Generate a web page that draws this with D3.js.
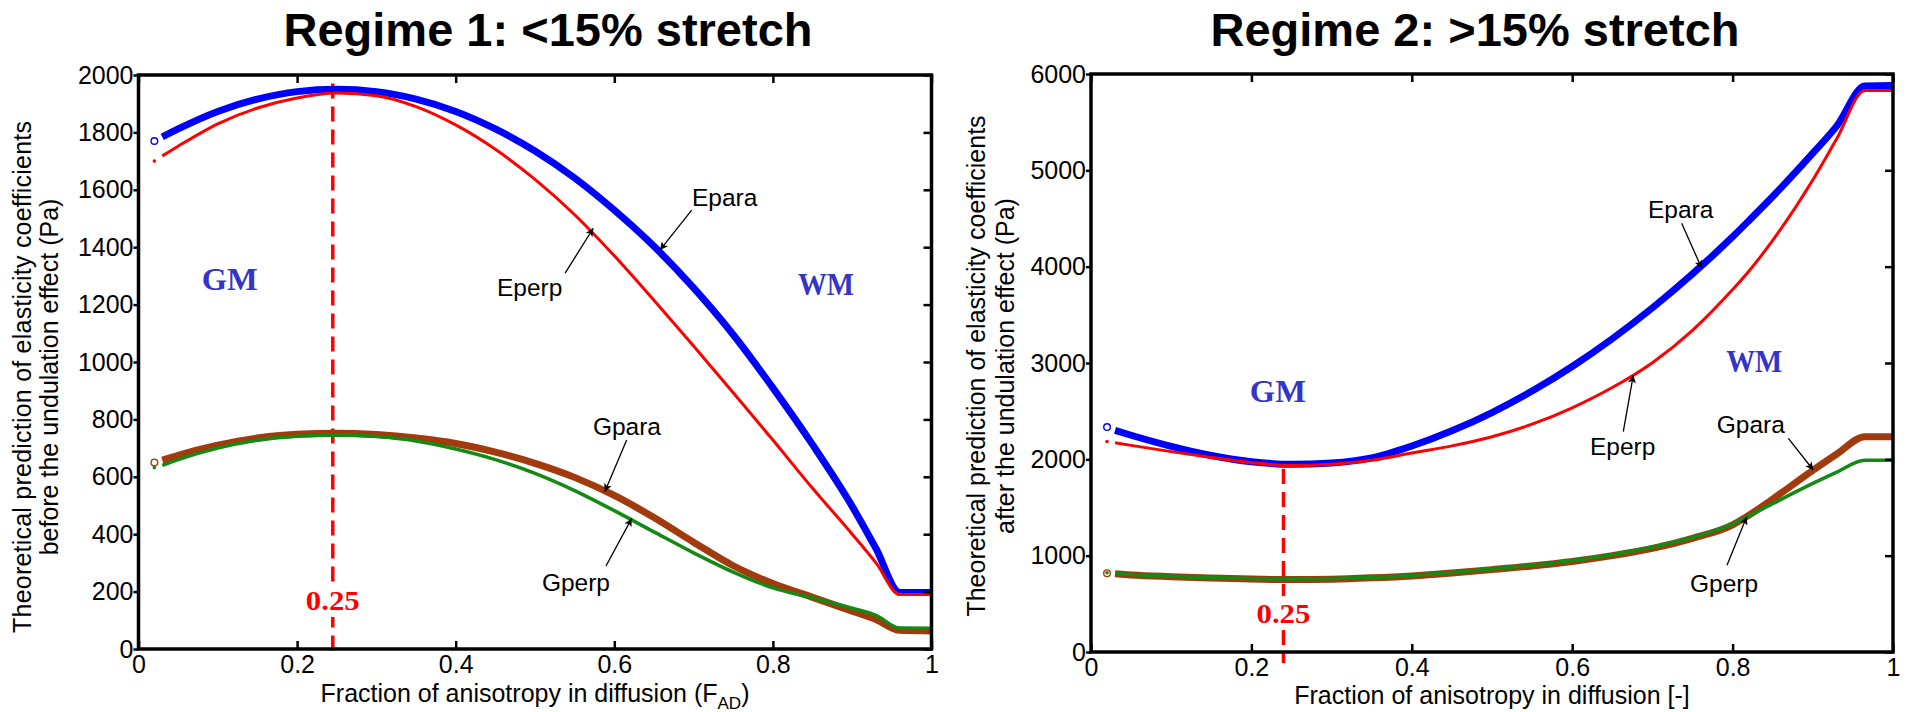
<!DOCTYPE html>
<html><head><meta charset="utf-8">
<script src="https://cdn.jsdelivr.net/npm/d3@7"></script>
<style>
body{margin:0;background:#fff}
svg{display:block}
</style>
</head><body>
<svg id="c" width="1910" height="712"></svg>
<script>
// ---------- data ----------
const xTicks = [0, 0.2, 0.4, 0.6, 0.8, 1];
const xTickLabels = ["0", "0.2", "0.4", "0.6", "0.8", "1"];
const yTicks1 = [0, 200, 400, 600, 800, 1000, 1200, 1400, 1600, 1800, 2000];
const yTicks2 = [0, 1000, 2000, 3000, 4000, 5000, 6000];

// Regime 1 (before undulation)
const fad1   = [0.02, 0.03, 0.05, 0.1, 0.15, 0.2, 0.25, 0.3, 0.35, 0.4, 0.45, 0.5, 0.55, 0.6, 0.65, 0.7, 0.75, 0.8, 0.85, 0.9, 0.93, 0.96, 1.0];
const epara1 = [1770, 1784, 1812, 1873, 1916, 1942, 1950, 1942, 1916, 1873, 1812, 1735, 1641, 1529, 1403, 1258, 1095, 910, 712, 497, 350, 197, 197];
const eperp1 = [1700, 1718, 1752, 1830, 1885, 1920, 1937, 1928, 1890, 1826, 1741, 1636, 1513, 1370, 1215, 1056, 893, 728, 560, 400, 300, 190, 190];
const gpara1 = [650, 658, 675, 710, 735, 748, 752, 747, 735, 716, 686, 647, 598, 535, 458, 372, 290, 228, 180, 132, 103, 65, 63];
const gperp1 = [632, 640, 660, 700, 727, 741, 745, 740, 725, 697, 660, 612, 552, 482, 408, 335, 268, 213, 178, 142, 117, 73, 72];

// Regime 2 (after undulation)
const fad2   = [0.02, 0.03, 0.05, 0.1, 0.15, 0.2, 0.25, 0.3, 0.35, 0.4, 0.45, 0.5, 0.55, 0.6, 0.65, 0.7, 0.75, 0.8, 0.82, 0.85, 0.9, 0.93, 0.965, 1.0];
const epara2 = [2335, 2300, 2250, 2135, 2040, 1975, 1948, 1962, 2015, 2138, 2296, 2486, 2709, 2964, 3252, 3572, 3925, 4310, 4475, 4728, 5178, 5462, 5875, 5880];
const eperp2 = [2185, 2172, 2145, 2080, 2020, 1965, 1935, 1948, 1990, 2066, 2140, 2235, 2365, 2535, 2745, 3003, 3339, 3762, 3950, 4273, 4900, 5330, 5830, 5830];
const gpara2 = [818, 812, 800, 782, 768, 757, 752, 756, 770, 790, 820, 855, 893, 940, 1000, 1075, 1180, 1320, 1418, 1588, 1885, 2055, 2235, 2235];
const gperp2 = [822, 815, 805, 786, 772, 762, 757, 762, 775, 795, 825, 862, 902, 950, 1010, 1090, 1188, 1330, 1412, 1540, 1750, 1868, 1990, 1990];

const seriesNames = ["Epara", "Eperp", "Gpara", "Gperp"];

// annotations: [label, textX, textY, tailX, tailY, tipX, tipY] in data units
const notes1 = [
  ["Epara", 0.698, 1543, 0.6976, 1529, 0.6576, 1390],
  ["Eperp", 0.452, 1230, 0.538, 1310, 0.5735, 1466],
  ["Gpara", 0.573, 746, 0.6156, 728, 0.588, 548],
  ["Gperp", 0.5087, 202, 0.5895, 289, 0.622, 455]
];
const notes2 = [
  ["Epara", 0.6945, 4505, 0.7365, 4450, 0.7615, 3983],
  ["Eperp", 0.6222, 2045, 0.6637, 2287, 0.6762, 2875],
  ["Gpara", 0.7802, 2273, 0.8695, 2218, 0.9006, 1889],
  ["Gperp", 0.7469, 623, 0.793, 900, 0.8176, 1404]
];
// region labels [text, x, y]
const regions1 = [["GM", 0.115, 1250], ["WM", 0.867, 1233]];
const regions2 = [["GM", 0.233, 2600], ["WM", 0.827, 2906]];
// marked fraction
const mark1 = {x: 0.245, y0: 1970, y1: -30, label: "0.25", labelY: 136};
const mark2 = {x: 0.24, y0: 1900, y1: -115, label: "0.25", labelY: 300};

// ---------- styles / layout ----------
const SANS = "Arial, 'Liberation Sans', Helvetica, sans-serif";
const SERIF = "'Liberation Serif', 'Times New Roman', 'DejaVu Serif', serif";
const styles = [
  {color: "#0000ff", width: 7, open: true},
  {color: "#ff0000", width: 3, open: false},
  {color: "#a13a0c", width: 7, open: true},
  {color: "#138a13", width: 3.5, open: false}
];
const panels = [
  {l: 138.5, r: 931.5, t: 75, b: 649, yMax: 2000, yTicks: yTicks1, xs: fad1,
   vals: [epara1, eperp1, gpara1, gperp1], notes: notes1, regions: regions1, mark: mark1,
   title: "Regime 1: <15% stretch", titleX: 548,
   ylab: ["Theoretical prediction of elasticity coefficients", "before the undulation effect (Pa)"],
   ylabLen: [512, null],
   ylabX: [31, 58], ylabY: 377, xlabSub: true, xlabY: 702},
  {l: 1091, r: 1893, t: 74, b: 652, yMax: 6000, yTicks: yTicks2, xs: fad2,
   vals: [epara2, eperp2, gpara2, gperp2], notes: notes2, regions: regions2, mark: mark2,
   title: "Regime 2: >15% stretch", titleX: 1475,
   ylab: ["Theoretical prediction of elasticity coefficients", "after the undulation effect (Pa)"],
   ylabLen: [null, null],
   ylabX: [985, 1014], ylabY: 366, xlabSub: false, xlabY: 704}
];

const svg = d3.select("#c");
const defs = svg.append("defs");
defs.append("marker").attr("id", "ah").attr("viewBox", "0 0 10 10")
  .attr("refX", 10).attr("refY", 5).attr("markerWidth", 11).attr("markerHeight", 8)
  .attr("markerUnits", "userSpaceOnUse").attr("orient", "auto")
  .append("path").attr("d", "M0,0L10,5L0,10L2.5,5z").attr("fill", "#000");

panels.forEach(p => {
  const x = d3.scaleLinear().domain([0, 1]).range([p.l, p.r]);
  const y = d3.scaleLinear().domain([0, p.yMax]).range([p.b, p.t]);
  const g = svg.append("g");

  // title
  g.append("text").attr("x", p.titleX).attr("y", 46).attr("text-anchor", "middle")
    .style("font-family", SANS).attr("font-size", 47).attr("font-weight", "bold").text(p.title);

  // dashed marker line
  g.append("line").attr("x1", x(p.mark.x)).attr("x2", x(p.mark.x))
    .attr("y1", y(p.mark.y0)).attr("y2", y(p.mark.y1))
    .attr("stroke", "#ff0000").attr("stroke-width", 3.5).attr("stroke-dasharray", "15,8");
  const ml = g.append("text").attr("x", x(p.mark.x)).attr("y", y(p.mark.labelY))
    .attr("text-anchor", "middle").style("font-family", SERIF)
    .attr("font-weight", "bold").attr("font-size", 28).attr("fill", "#ff0000")
    .attr("textLength", 54).attr("lengthAdjust", "spacingAndGlyphs").text(p.mark.label);
  const bb = ml.node().getBBox();
  g.insert("rect", () => ml.node()).attr("x", bb.x - 2).attr("y", bb.y - 2)
    .attr("width", bb.width + 4).attr("height", bb.height + 3).attr("fill", "#fff");

  // series
  const line = d3.line().x(d => x(d[0])).y(d => y(d[1])).curve(d3.curveMonotoneX);
  p.vals.forEach((vals, k) => {
    const st = styles[k];
    const pts = p.xs.map((xv, i) => [xv, vals[i]]);
    g.append("path").attr("class", "series-" + seriesNames[k]).attr("d", line(pts.slice(1))).attr("fill", "none")
      .attr("stroke", st.color).attr("stroke-width", st.width)
      .attr("stroke-linejoin", "round").attr("stroke-linecap", "butt");
    if (st.open) {
      g.append("circle").attr("cx", x(pts[0][0])).attr("cy", y(pts[0][1])).attr("r", 3.3)
        .attr("fill", "#fff").attr("stroke", st.color).attr("stroke-width", 1.4);
    } else {
      g.append("circle").attr("cx", x(pts[0][0])).attr("cy", y(pts[0][1])).attr("r", 1.8)
        .attr("fill", st.color);
    }
  });

  // axes
  const fontAttrs = sel => sel.attr("font-size", 25).attr("font-family", SANS);
  g.append("g").attr("transform", `translate(0,${p.b})`)
    .call(d3.axisBottom(x).tickValues(xTicks).tickFormat((d, i) => xTickLabels[i]).tickSize(-8).tickPadding(6))
    .call(fontAttrs)
    .call(a => { a.select(".domain").remove(); a.selectAll("line").attr("stroke-width", 2.5); a.selectAll("text").attr("fill", "#000"); });
  g.append("g").attr("transform", `translate(0,${p.t})`)
    .call(d3.axisTop(x).tickValues(xTicks).tickFormat("").tickSize(-8))
    .call(a => { a.select(".domain").remove(); a.selectAll("line").attr("stroke-width", 2.5); });
  g.append("g").attr("transform", `translate(${p.l},0)`)
    .call(d3.axisLeft(y).tickValues(p.yTicks).tickFormat(d3.format("d")).tickSize(5).tickPadding(0))
    .call(fontAttrs)
    .call(a => { a.select(".domain").remove(); a.selectAll("line").attr("stroke-width", 2.5); a.selectAll("text").attr("fill", "#000"); });
  g.append("g").attr("transform", `translate(${p.r},0)`)
    .call(d3.axisRight(y).tickValues(p.yTicks).tickFormat("").tickSize(-8))
    .call(a => { a.select(".domain").remove(); a.selectAll("line").attr("stroke-width", 2.5); });
  g.append("rect").attr("x", p.l).attr("y", p.t).attr("width", p.r - p.l).attr("height", p.b - p.t)
    .attr("fill", "none").attr("stroke", "#000").attr("stroke-width", 3.5);

  // x label
  const xl = g.append("text").attr("x", (p.l + p.r) / 2).attr("y", p.xlabY)
    .attr("text-anchor", "middle").style("font-family", SANS).attr("font-size", 25);
  if (p.xlabSub) {
    xl.append("tspan").text("Fraction of anisotropy in diffusion (F");
    xl.append("tspan").attr("font-size", 17).attr("dy", 7).text("AD");
    xl.append("tspan").attr("dy", -7).text(")");
  } else {
    xl.text("Fraction of anisotropy in diffusion [-]");
  }

  // y label (two lines)
  p.ylab.forEach((t, i) => {
    const yt = g.append("text").attr("transform", `translate(${p.ylabX[i]},${p.ylabY}) rotate(-90)`)
      .attr("text-anchor", "middle").style("font-family", SANS).attr("font-size", 25).text(t);
    if (p.ylabLen[i]) yt.attr("textLength", p.ylabLen[i]);
  });

  // region labels
  p.regions.forEach(r => {
    g.append("text").attr("x", x(r[1])).attr("y", y(r[2])).attr("text-anchor", "middle")
      .style("font-family", SERIF).attr("font-weight", "bold")
      .attr("font-size", 31).attr("fill", "#3434c6")
      .attr("textLength", 56).attr("lengthAdjust", "spacingAndGlyphs").text(r[0]);
  });

  // annotations
  p.notes.forEach(n => {
    g.append("text").attr("x", x(n[1])).attr("y", y(n[2])).style("font-family", SANS)
      .attr("font-size", 24.5).text(n[0]);
    g.append("line").attr("x1", x(n[3])).attr("y1", y(n[4])).attr("x2", x(n[5])).attr("y2", y(n[6]))
      .attr("stroke", "#000").attr("stroke-width", 1.3).attr("marker-end", "url(#ah)");
  });
});
</script>
</body></html>
